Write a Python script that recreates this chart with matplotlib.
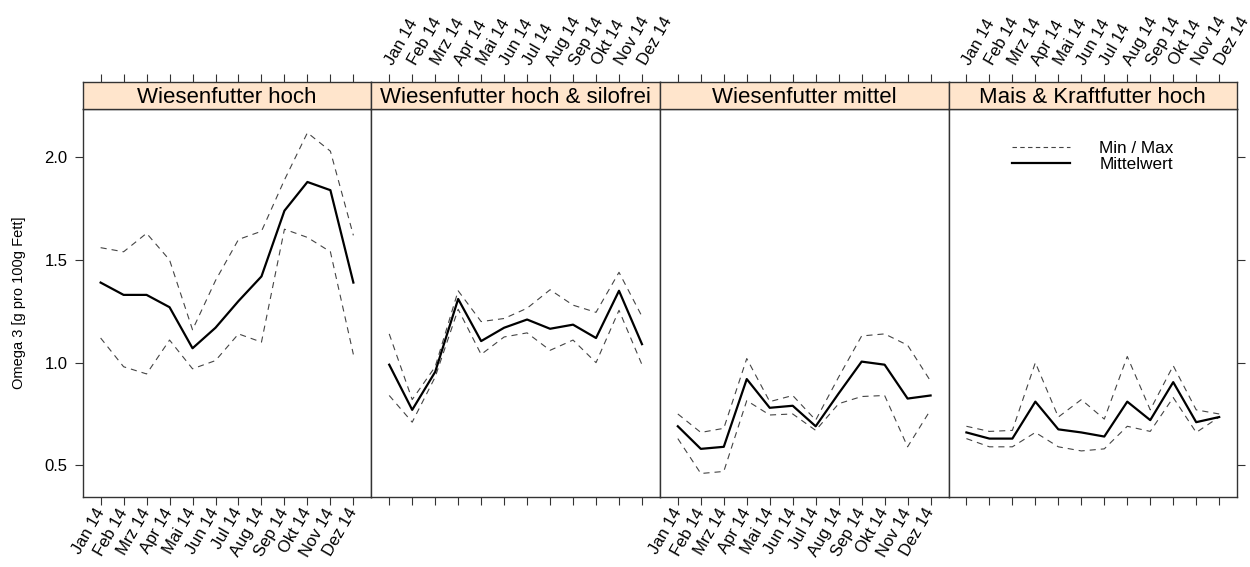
import numpy as np
import matplotlib.pyplot as plt

plt.rcParams['font.family'] = ['Liberation Sans', 'DejaVu Sans']

months = ['Jan 14', 'Feb 14', 'Mrz 14', 'Apr 14', 'Mai 14', 'Jun 14',
          'Jul 14', 'Aug 14', 'Sep 14', 'Okt 14', 'Nov 14', 'Dez 14']
panels = ['Wiesenfutter hoch', 'Wiesenfutter hoch & silofrei',
          'Wiesenfutter mittel', 'Mais & Kraftfutter hoch']

# Wiesenfutter hoch
mean_wh = [1.39, 1.33, 1.33, 1.27, 1.07, 1.17, 1.30, 1.42, 1.74, 1.88, 1.84, 1.39]
max_wh = [1.56, 1.54, 1.63, 1.50, 1.16, 1.40, 1.60, 1.64, 1.89, 2.12, 2.03, 1.62]
min_wh = [1.12, 0.98, 0.945, 1.11, 0.97, 1.01, 1.14, 1.10, 1.65, 1.61, 1.54, 1.04]

# Wiesenfutter hoch & silofrei
mean_whs = [0.99, 0.77, 0.955, 1.31, 1.105, 1.17, 1.21, 1.165, 1.185, 1.12, 1.35, 1.09]
max_whs = [1.14, 0.82, 0.98, 1.35, 1.20, 1.215, 1.265, 1.355, 1.28, 1.245, 1.44, 1.225]
min_whs = [0.84, 0.71, 0.93, 1.26, 1.04, 1.125, 1.145, 1.06, 1.11, 1.00, 1.255, 0.99]

# Wiesenfutter mittel
mean_wm = [0.69, 0.58, 0.59, 0.92, 0.78, 0.79, 0.69, 0.85, 1.005, 0.99, 0.825, 0.84]
max_wm = [0.75, 0.66, 0.68, 1.02, 0.81, 0.84, 0.72, 0.93, 1.13, 1.14, 1.085, 0.91]
min_wm = [0.63, 0.46, 0.47, 0.815, 0.745, 0.75, 0.67, 0.80, 0.835, 0.84, 0.59, 0.77]

# Mais & Kraftfutter hoch
mean_mk = [0.66, 0.63, 0.63, 0.81, 0.675, 0.66, 0.64, 0.81, 0.72, 0.905, 0.71, 0.735]
max_mk = [0.69, 0.665, 0.67, 1.00, 0.735, 0.82, 0.725, 1.03, 0.77, 0.985, 0.77, 0.75]
min_mk = [0.63, 0.59, 0.59, 0.66, 0.59, 0.57, 0.58, 0.69, 0.665, 0.83, 0.66, 0.735]

means = [mean_wh, mean_whs, mean_wm, mean_mk]
maxs = [max_wh, max_whs, max_wm, max_mk]
mins = [min_wh, min_whs, min_wm, min_mk]

W, H = 1250, 567
fig = plt.figure(figsize=(W / 100, H / 100), dpi=100)

x = np.arange(len(months))
left0 = 82.7
pw = 288.6
top_panel, bot_panel = 109.3, 496.7
strip_top = 82.3
edge = '#333333'

for i in range(4):
    l = (left0 + i * pw) / W
    ax = fig.add_axes([l, (H - bot_panel) / H, pw / W, (bot_panel - top_panel) / H])
    st = fig.add_axes([l, (H - top_panel) / H, pw / W, (top_panel - strip_top) / H])

    ax.plot(x, maxs[i], color='#444444', lw=0.8, dashes=(5.5, 4.5))
    ax.plot(x, mins[i], color='#444444', lw=0.8, dashes=(5.5, 4.5))
    ax.plot(x, means[i], color='black', lw=1.6)
    ax.set_xlim(-0.78, 11.78)
    ax.set_ylim(0.347, 2.234)

    for a in (ax, st):
        for s in a.spines.values():
            s.set_color(edge)
            s.set_linewidth(1.0)

    # bottom ticks
    ax.set_xticks(x)
    ax.tick_params(axis='x', direction='out', length=5.5, width=0.8, color=edge, pad=3.8)
    if i in (0, 2):
        ax.set_xticklabels(months, rotation=60, ha='right', va='center',
                           rotation_mode='anchor', fontsize=12)
    else:
        ax.set_xticklabels([])

    # y ticks
    ax.set_yticks([0.5, 1.0, 1.5, 2.0])
    if i == 0:
        ax.set_yticklabels(['0.5', '1.0', '1.5', '2.0'], fontsize=12)
        ax.tick_params(axis='y', direction='out', length=5.5, width=0.8, color=edge, pad=5.5)
        ax.set_ylabel('Omega 3 [g pro 100g Fett]', fontsize=10.5, labelpad=13)
    elif i == 3:
        ax.yaxis.tick_right()
        ax.set_yticklabels([])
        ax.tick_params(axis='y', direction='out', length=5.5, width=0.8, color=edge)
    else:
        ax.tick_params(axis='y', left=False, labelleft=False)

    # strip with top ticks
    st.set_facecolor('#ffe5cc')
    st.set_xlim(-0.78, 11.78)
    st.set_ylim(0, 1)
    st.set_yticks([])
    st.xaxis.tick_top()
    st.set_xticks(x)
    st.tick_params(axis='x', direction='out', length=6, width=0.8, color=edge, pad=7)
    if i in (1, 3):
        st.set_xticklabels(months, rotation=60, ha='left', va='center',
                           rotation_mode='anchor', fontsize=12)
    else:
        st.set_xticklabels([])
    st.text(0.5, 0.45, panels[i], transform=st.transAxes, ha='center', va='center',
            fontsize=16)

    if i == 3:
        ax.plot([], [], color='#444444', lw=0.8, dashes=(4, 3), label='Min / Max')
        ax.plot([], [], color='black', lw=1.6, label='Mittelwert')
        h, lb = ax.get_legend_handles_labels()
        ax.legend(h[-2:], lb[-2:], loc='upper left', bbox_to_anchor=(0.221, 0.918),
                  frameon=False, fontsize=12.3, handlelength=3.4, handletextpad=1.7,
                  labelspacing=0.08, borderpad=0, borderaxespad=0)

plt.savefig('out.png', dpi=100)
